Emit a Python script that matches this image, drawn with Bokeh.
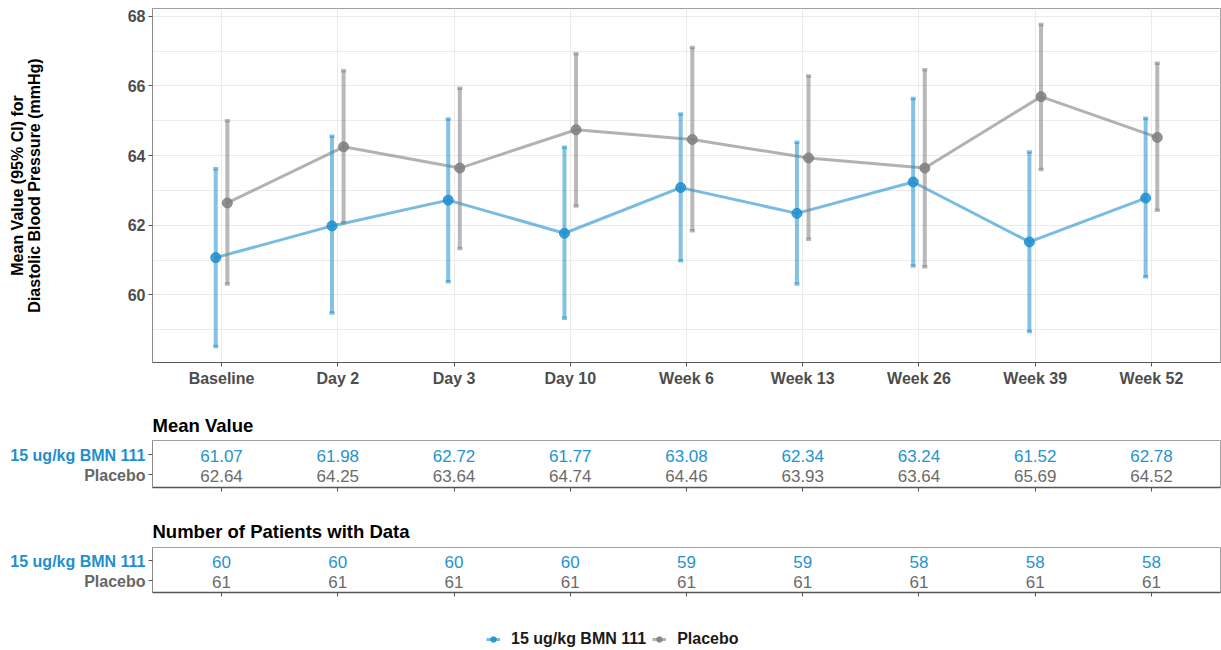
from bokeh.plotting import figure
from bokeh.models import (FactorRange, Range1d, ColumnDataSource, SingleIntervalTicker,
                          Legend, LegendItem, CustomJSTickFormatter)
from bokeh.layouts import column, row
from bokeh.transform import dodge
from bokeh.embed import file_html
from bokeh.resources import INLINE
from bokeh.core.properties import value

# ---------------- data ----------------
visits = ["Baseline", "Day 2", "Day 3", "Day 10", "Week 6", "Week 13", "Week 26", "Week 39", "Week 52"]
groups = ["15 ug/kg BMN 111", "Placebo"]

bmn_mean = [61.07, 61.98, 62.72, 61.77, 63.08, 62.34, 63.24, 61.52, 62.78]
bmn_lo = [58.52, 59.48, 60.38, 59.33, 60.98, 60.31, 60.83, 58.95, 60.52]
bmn_hi = [63.62, 64.55, 65.05, 64.24, 65.19, 64.38, 65.64, 64.10, 65.07]

pbo_mean = [62.64, 64.25, 63.64, 64.74, 64.46, 63.93, 63.64, 65.69, 64.52]
pbo_lo = [60.31, 62.07, 61.33, 62.55, 61.84, 61.60, 60.81, 63.60, 62.43]
pbo_hi = [65.00, 66.43, 65.93, 66.92, 67.10, 66.28, 66.46, 67.76, 66.65]

bmn_n = [60, 60, 60, 60, 59, 59, 58, 58, 58]
pbo_n = [61, 61, 61, 61, 61, 61, 61, 61, 61]

y_title = "Mean Value (95% CI) for\nDiastolic Blood Pressure (mmHg)"
table_titles = ["Mean Value", "Number of Patients with Data"]

# ---------------- style ----------------
FONT = "Liberation Sans"
BLUE = "#1f8fce"
GREY = "#7f7f7f"
BLUE_TXT = "#2593d0"
GREY_TXT = "#6b6b6b"
AX = "#555555"
W = 1221
LEFT = 152
LABW = 146
PAD = 0.094
DODGE = 0.05

xr = FactorRange(factors=visits, range_padding=PAD, range_padding_units="absolute")

# ---------------- main plot ----------------
p = figure(width=W, height=392, x_range=xr, y_range=Range1d(58.06, 68.22),
           output_backend="svg", toolbar_location=None,
           min_border_left=LEFT, min_border_right=1, min_border_top=8, min_border_bottom=30)
p.outline_line_color = "#a0a0a0"

series = [
    (groups[0], bmn_mean, bmn_lo, bmn_hi, BLUE, -DODGE),
    (groups[1], pbo_mean, pbo_lo, pbo_hi, GREY, DODGE),
]
srcs = [ColumnDataSource(dict(visit=visits, mean=m, lo=lo, hi=hi)) for _, m, lo, hi, _, _ in series]

for (name, m, lo, hi, col, off), src in zip(series, srcs):
    p.line(x=dodge("visit", off, range=xr), y="mean", source=src,
           line_color=col, line_alpha=0.6, line_width=3)
for (name, m, lo, hi, col, off), src in zip(series, srcs):
    p.segment(x0=dodge("visit", off, range=xr), y0="lo", x1=dodge("visit", off, range=xr), y1="hi",
              source=src, line_color=col, line_alpha=0.55, line_width=4)
    for end in ("lo", "hi"):
        p.segment(x0=dodge("visit", off - 0.022, range=xr), y0=end,
                  x1=dodge("visit", off + 0.022, range=xr), y1=end,
                  source=src, line_color=col, line_alpha=0.55, line_width=3.5)
for (name, m, lo, hi, col, off), src in zip(series, srcs):
    p.scatter(x=dodge("visit", off, range=xr), y="mean", source=src, size=10,
              fill_color=col, line_color=col, alpha=0.85)

yt = SingleIntervalTicker(interval=2, num_minor_ticks=2)
p.yaxis.ticker = yt
p.ygrid.ticker = yt
p.xgrid.grid_line_color = "#ebebeb"
p.ygrid.grid_line_color = "#ebebeb"
p.ygrid.minor_grid_line_color = "#ebebeb"

for ax in (p.xaxis[0], p.yaxis[0]):
    ax.major_label_text_font = FONT
    ax.major_label_text_font_size = "16px"
    ax.major_label_text_font_style = "bold"
    ax.major_label_text_color = "#4d4d4d"
    ax.major_tick_out = 4
    ax.major_tick_in = 0
    ax.minor_tick_line_color = None
    ax.major_tick_line_color = AX
    ax.major_label_standoff = 3
p.xaxis.axis_line_color = AX
p.yaxis.axis_line_color = "#8c8c8c"
p.yaxis.axis_label = y_title
p.yaxis.axis_label_text_font = FONT
p.yaxis.axis_label_text_font_size = "16px"
p.yaxis.axis_label_text_font_style = "bold"
p.yaxis.axis_label_text_color = "#000000"
p.yaxis.axis_label_text_line_height = 1.0
p.yaxis.axis_label_standoff = 82


# ---------------- tables ----------------
def table_block(title, height, top, bottom, ypad, standoff, row_vals):
    yr = FactorRange(factors=[groups[1], groups[0]], range_padding=ypad, range_padding_units="absolute")
    t = figure(width=W - LABW, height=height, x_range=xr, y_range=yr, output_backend="svg",
               toolbar_location=None, title=title,
               min_border_left=LEFT - LABW, min_border_right=1, min_border_top=top, min_border_bottom=bottom)
    t.title.text_font = FONT
    t.title.text_font_size = "18.5px"
    t.title.text_font_style = "bold"
    t.title.text_color = "#000000"
    t.title.align = "left"
    t.title.offset = 0
    t.title.standoff = standoff
    t.outline_line_color = "#a0a0a0"
    t.xgrid.grid_line_color = None
    t.ygrid.grid_line_color = None
    blank = CustomJSTickFormatter(code="return ''")
    for ax in (t.xaxis[0], t.yaxis[0]):
        ax.formatter = blank
        ax.major_tick_out = 4
        ax.major_tick_in = 0
        ax.major_tick_line_color = AX
        ax.major_label_standoff = 0
    t.xaxis.axis_line_color = AX
    t.xaxis.axis_line_width = 1.5
    t.yaxis.axis_line_color = "#8c8c8c"
    for g, vals, c in zip(groups, row_vals, [BLUE_TXT, GREY_TXT]):
        src = ColumnDataSource(dict(visit=visits, row=[g] * len(visits), txt=vals))
        t.text(x="visit", y="row", text="txt", source=src, text_align="center",
               text_baseline="middle", text_font=value(FONT), text_font_size="17px",
               text_color=c, y_offset=2)

    # row labels (coloured per group) in a narrow companion figure sharing the y scale
    lab = figure(width=LABW, height=height, x_range=Range1d(0, 1), y_range=yr, output_backend="svg",
                 toolbar_location=None, min_border_left=0, min_border_right=0,
                 min_border_top=top, min_border_bottom=bottom)
    lab.outline_line_color = None
    lab.xaxis.visible = False
    lab.yaxis.visible = False
    lab.xgrid.grid_line_color = None
    lab.ygrid.grid_line_color = None
    lsrc = ColumnDataSource(dict(row=groups, x=[1] * len(groups), color=[BLUE, "#666666"]))
    lab.text(x="x", y="row", text="row", source=lsrc, text_align="right", text_baseline="middle",
             text_font=value(FONT), text_font_size="16px", text_font_style="bold",
             text_color="color", x_offset=-1, y_offset=1)
    return row(lab, t, spacing=0)


t1 = table_block(table_titles[0], 110, 48, 15, 0.175, 10,
                 [[f"{v:.2f}" for v in bmn_mean], [f"{v:.2f}" for v in pbo_mean]])
t2 = table_block(table_titles[1], 100, 45, 10, 0.125, 11,
                 [[str(v) for v in bmn_n], [str(v) for v in pbo_n]])

# ---------------- legend ----------------
lf = figure(width=W, height=46, x_range=xr, y_range=Range1d(0, 1), output_backend="svg",
            toolbar_location=None, min_border_left=LEFT, min_border_right=1,
            min_border_top=0, min_border_bottom=0)
lf.outline_line_color = None
lf.xaxis.visible = False
lf.yaxis.visible = False
lf.xgrid.grid_line_color = None
lf.ygrid.grid_line_color = None
items = []
for (name, m, lo, hi, col, off), src in zip(series, srcs):
    # same data as the chart; the values lie outside this strip's y range, so only the legend keys show
    lr = lf.line(x=dodge("visit", off, range=xr), y="mean", source=src,
                 line_color=col, line_alpha=0.6, line_width=3)
    sr = lf.scatter(x=dodge("visit", off, range=xr), y="mean", source=src, size=10,
                    fill_color=col, line_color=col, alpha=0.85)
    items.append(LegendItem(label=name, renderers=[lr, sr]))
leg = Legend(items=items, orientation="horizontal", location=(334, 0),
             border_line_color=None, background_fill_alpha=0, margin=0, padding=4,
             glyph_width=14, glyph_height=14, label_standoff=11, spacing=6,
             label_text_font=FONT, label_text_font_size="16px", label_text_font_style="bold",
             label_text_color="#1a1a1a")
lf.add_layout(leg)

layout = column(p, t1, t2, lf, spacing=0)
open("out.html", "w").write(file_html(layout, INLINE))
